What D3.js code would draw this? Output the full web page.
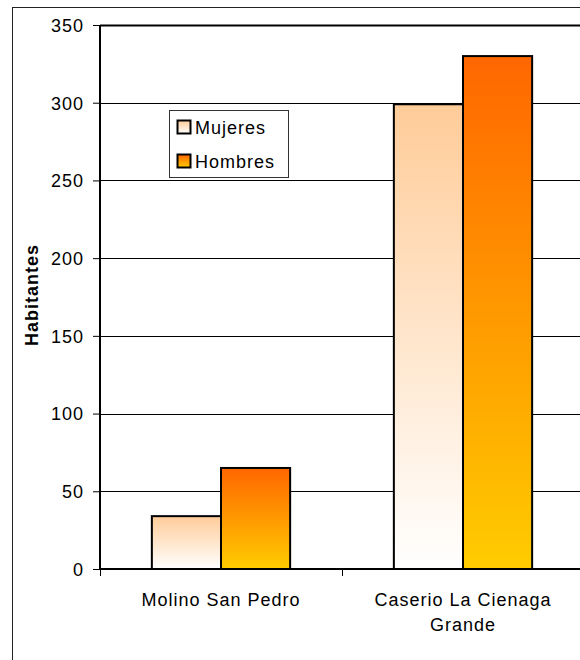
<!DOCTYPE html>
<html>
<head>
<meta charset="utf-8">
<script src="https://cdn.jsdelivr.net/npm/d3@7"></script>
<style>
  html, body { margin: 0; padding: 0; background: #fff; }
  svg { display: block; }
  text { font-family: "Liberation Sans", Arial, sans-serif; fill: #000; letter-spacing: 1px; }
</style>
</head>
<body>
<svg id="chart" width="580" height="660"></svg>
<script>
// Population by settlement, split by sex
const categories = [["Molino San Pedro"], ["Caserio La Cienaga", "Grande"]];
const categoryKeys = ["Molino San Pedro", "Caserio La Cienaga Grande"];
const seriesNames = ["Mujeres", "Hombres"];
const mujeres = [34, 299];
const hombres = [65, 330];
const yTicks = [0, 50, 100, 150, 200, 250, 300, 350];

const seriesValues = [mujeres, hombres];
const gradients = [
  { id: "gradMujeres", top: "#FFCC99", bottom: "#FFFFFF" },
  { id: "gradHombres", top: "#FF6600", bottom: "#FFCC00" }
];
const FONT = 18;

const svg = d3.select("#chart");

// Gradient fills, running top to bottom of each bar
const defs = svg.append("defs");
gradients.forEach(g => {
  const lg = defs.append("linearGradient")
    .attr("id", g.id).attr("x1", 0).attr("y1", 0).attr("x2", 0).attr("y2", 1);
  lg.append("stop").attr("offset", "0%").attr("stop-color", g.top);
  lg.append("stop").attr("offset", "100%").attr("stop-color", g.bottom);
});

// Outer chart frame
svg.append("rect")
  .attr("x", 12.5).attr("y", 7.5).attr("width", 600).attr("height", 700)
  .attr("fill", "none").attr("stroke", "#222").attr("stroke-width", 1);

const plot = { left: 100, right: 584, top: 25, bottom: 569 };

const x0 = d3.scaleBand().domain(categoryKeys).range([plot.left, plot.right]).padding(0);
const x1 = d3.scaleBand().domain(seriesNames).range([0, x0.bandwidth()])
  .paddingInner(0).paddingOuter(0.75);
const y = d3.scaleLinear().domain([0, 350]).range([plot.bottom, plot.top]);

// Horizontal gridlines
svg.append("g").selectAll("line").data(yTicks.filter(t => t > 0)).join("line")
  .attr("x1", plot.left).attr("x2", plot.right)
  .attr("y1", d => Math.round(y(d)) + 0.5).attr("y2", d => Math.round(y(d)) + 0.5)
  .attr("stroke", "#000").attr("stroke-width", d => d === 350 ? 2 : 1);

// Bars
const groups = svg.append("g").selectAll("g").data(categoryKeys).join("g")
  .attr("transform", d => `translate(${x0(d)},0)`);
groups.selectAll("rect")
  .data((d, i) => seriesNames.map((s, j) => ({ s, j, v: seriesValues[j][i] })))
  .join("rect")
  .attr("x", d => x1(d.s))
  .attr("y", d => y(d.v))
  .attr("width", x1.bandwidth())
  .attr("height", d => y(0) - y(d.v))
  .attr("fill", d => `url(#${gradients[d.j].id})`)
  .attr("stroke", "#000").attr("stroke-width", 2);

// Y axis
const yAxis = svg.append("g").attr("transform", `translate(${plot.left},0)`)
  .call(d3.axisLeft(y).tickValues(yTicks).tickSize(7).tickPadding(9));
yAxis.attr("font-size", FONT).attr("font-family", null);
yAxis.select(".domain").attr("stroke", "#000").attr("stroke-width", 2)
  .attr("d", `M0,${plot.top}V${plot.bottom}`);
yAxis.selectAll(".tick line").attr("stroke", "#000").attr("stroke-width", 1);
yAxis.selectAll(".tick text").attr("font-size", FONT).attr("dy", "0.35em");

// X axis baseline and category separators
const xAxis = svg.append("g").attr("transform", `translate(0,${plot.bottom})`)
  .call(d3.axisBottom(d3.scaleLinear().domain([0, 2]).range([plot.left, plot.right]))
    .tickValues([0, 1, 2]).tickSize(7).tickFormat(""));
xAxis.select(".domain").attr("stroke", "#000").attr("stroke-width", 2)
  .attr("d", `M${plot.left},0H${plot.right}`);
xAxis.selectAll(".tick line").attr("stroke", "#000").attr("stroke-width", 1);

// Category labels
svg.append("g").selectAll("text").data(categoryKeys).join("text")
  .attr("x", d => x0(d) + x0.bandwidth() / 2)
  .attr("y", 606)
  .attr("text-anchor", "middle").attr("font-size", FONT)
  .each(function (d, i) {
    const t = d3.select(this);
    categories[i].forEach((line, k) => {
      t.append("tspan").attr("x", x0(d) + x0.bandwidth() / 2)
        .attr("dy", k === 0 ? 0 : 25).text(line);
    });
  });

// Y axis title
svg.append("text")
  .attr("transform", `translate(38,${(plot.top + plot.bottom) / 2 - 2}) rotate(-90)`)
  .attr("text-anchor", "middle").attr("font-size", FONT).attr("font-weight", "bold")
  .text("Habitantes");

// Legend
const legend = svg.append("g");
legend.append("rect")
  .attr("x", 169.5).attr("y", 110.5).attr("width", 119).attr("height", 67)
  .attr("fill", "#fff").attr("stroke", "#333").attr("stroke-width", 1);
seriesNames.forEach((s, j) => {
  const cy = 127 + j * 34;
  legend.append("rect")
    .attr("x", 177.5).attr("y", cy - 6.5).attr("width", 13).attr("height", 13)
    .attr("fill", `url(#${gradients[j].id})`)
    .attr("stroke", "#000").attr("stroke-width", 2);
  legend.append("text")
    .attr("x", 195).attr("y", cy + 6.5).attr("font-size", FONT).text(s);
});
</script>
</body>
</html>
